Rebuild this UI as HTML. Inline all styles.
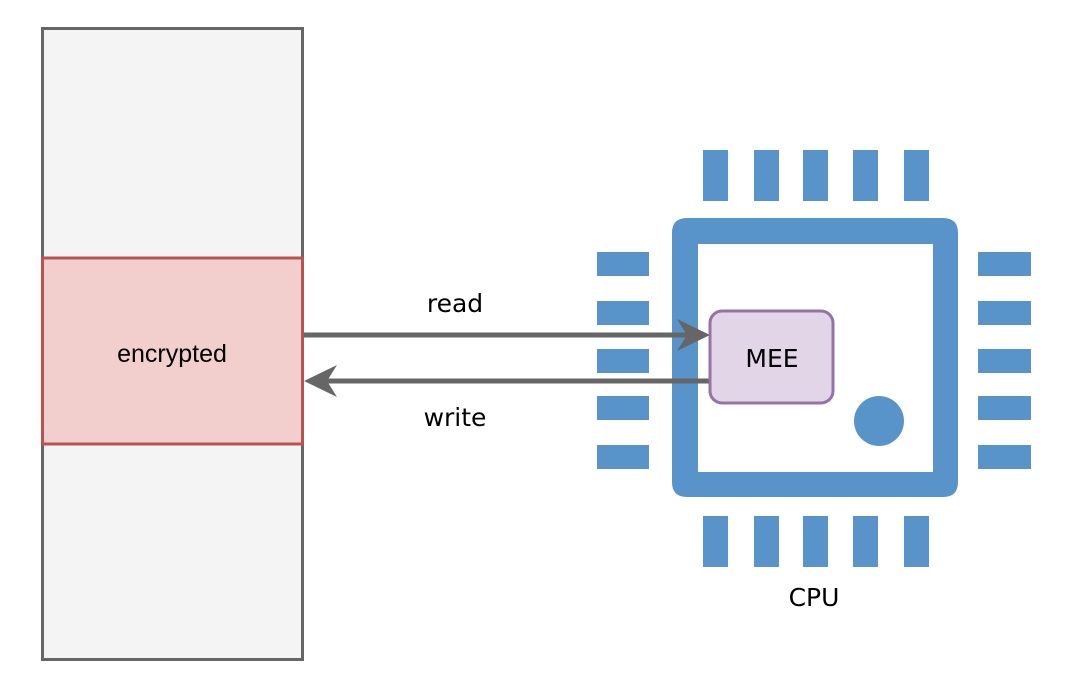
<!DOCTYPE html>
<html><head><meta charset="utf-8"><style>
html,body{margin:0;padding:0;background:#fff;}
svg{display:block;}
text{font-family:"DejaVu Sans","Liberation Sans",sans-serif;fill:#000;}
</style></head><body>
<svg width="1080" height="693" viewBox="0 0 1080 693" xmlns="http://www.w3.org/2000/svg">
<rect width="1080" height="693" fill="#fff"/>
<rect x="42.5" y="28.5" width="260" height="631" fill="#f4f4f4" stroke="#666" stroke-width="3"/>
<rect x="42.5" y="258" width="260" height="186" fill="#f2cfcd" stroke="#b85450" stroke-width="3"/>
<text x="172" y="362" font-size="25" text-anchor="middle" style="font-family:'Liberation Sans',sans-serif">encrypted</text>
<g fill="#5894c9">
<rect x="703" y="150" width="25" height="51"/><rect x="754" y="150" width="25" height="51"/><rect x="803" y="150" width="25" height="51"/><rect x="853" y="150" width="25" height="51"/><rect x="904" y="150" width="25" height="51"/>
<rect x="703" y="516" width="25" height="51"/><rect x="754" y="516" width="25" height="51"/><rect x="803" y="516" width="25" height="51"/><rect x="853" y="516" width="25" height="51"/><rect x="904" y="516" width="25" height="51"/>
<rect x="597" y="252" width="52" height="24"/><rect x="597" y="301" width="52" height="24"/><rect x="597" y="349" width="52" height="24"/><rect x="597" y="396" width="52" height="24"/><rect x="597" y="445" width="52" height="24"/>
<rect x="978" y="252" width="53" height="24"/><rect x="978" y="301" width="53" height="24"/><rect x="978" y="349" width="53" height="24"/><rect x="978" y="396" width="53" height="24"/><rect x="978" y="445" width="53" height="24"/>
<path fill-rule="evenodd" d="M687,218 H943 Q958,218 958,233 V482 Q958,497 943,497 H687 Q672,497 672,482 V233 Q672,218 687,218 Z M698,244 V472 H933 V244 Z"/>
<circle cx="879" cy="421" r="25"/>
</g>
<line x1="304" y1="335" x2="690" y2="335" stroke="#666" stroke-width="5"/>
<path d="M710,335 L677,319 L687,335 L677,351 Z" fill="#666"/>
<line x1="325" y1="381" x2="712" y2="381" stroke="#666" stroke-width="5"/>
<path d="M304,381 L337,365 L327,381 L337,397 Z" fill="#666"/>
<rect x="710" y="311" width="123" height="92" rx="12" fill="#e1d5e7" stroke="#9673a6" stroke-width="3"/>
<text x="772" y="367" font-size="25" text-anchor="middle">MEE</text>
<text x="455" y="312" font-size="25" text-anchor="middle">read</text>
<text x="455" y="426" font-size="25" text-anchor="middle">write</text>
<text x="814" y="606" font-size="25" text-anchor="middle">CPU</text>
</svg>
</body></html>
